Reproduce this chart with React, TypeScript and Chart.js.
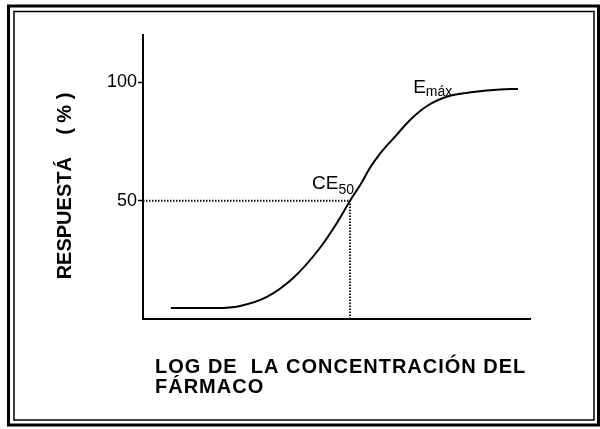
import React, { useEffect, useRef } from "react";
import { Chart, registerables } from "chart.js";

Chart.register(...registerables);

// Dose–response curve (x: log concentration, arbitrary units; y: response %)
const curveX = [0.72, 1.91, 2.51, 3.2, 3.88, 4.57, 5.01, 5.35, 5.66, 5.85, 6.12, 6.56, 6.9, 7.36, 7.93, 8.53, 9.22, 9.69];
const curveY = [4.6, 4.6, 5.5, 9.3, 17.3, 30.0, 40.6, 50.0, 57.9, 63.5, 69.8, 77.9, 84.1, 90.2, 94.3, 95.9, 97.0, 97.2];

// CE50 reference point
const ce50X = 5.35;
const ce50Y = 50;

// axis ticks / ranges
const yTickValues = [50, 100];
const yMin = 0;
const yMax = 120;
const xMin = 0;
const xMax = 10;

// texts
const yTitle = "RESPUESTÁ    ( % )";
const xTitleLines = ["LOG DE  LA CONCENTRACIÓN DEL", "FÁRMACO"];
const labelMain = ["CE", "E"];
const labelSub = ["50", "máx"];
const labelAnchorX = [4.37, 6.98];
const labelAnchorY = [54.9, 95.5];

const FONT = "'Liberation Sans', Arial, Helvetica, sans-serif";

const framePlugin = {
  id: "frame",
  beforeDraw(chart: any) {
    const ctx = chart.ctx;
    ctx.save();
    ctx.fillStyle = "#fff";
    ctx.fillRect(0, 0, chart.width, chart.height);
    ctx.strokeStyle = "#000";
    ctx.lineWidth = 3;
    ctx.strokeRect(8.5, 6, 590, 419);
    ctx.lineWidth = 1.5;
    ctx.strokeRect(14, 11.5, 580, 408.5);
    ctx.restore();
  },
};

const textPlugin = {
  id: "texts",
  afterDraw(chart: any) {
    const ctx = chart.ctx;
    const xs = chart.scales.x;
    const ys = chart.scales.y;
    const area = chart.chartArea;
    ctx.save();
    ctx.fillStyle = "#000";
    ctx.textBaseline = "alphabetic";

    // y-axis title (rotated)
    ctx.save();
    ctx.translate(ys.left + 25, (area.top + area.bottom) / 2 + 9);
    ctx.rotate(-Math.PI / 2);
    ctx.font = `bold 20px ${FONT}`;
    ctx.textAlign = "center";
    ctx.textBaseline = "middle";
    ctx.fillText(yTitle, 0, 0);
    ctx.restore();

    // x-axis title
    ctx.textAlign = "left";
    ctx.font = `bold 20px ${FONT}`;
    try { (ctx as any).letterSpacing = "1px"; } catch (e) {}
    xTitleLines.forEach((line, i) => {
      ctx.fillText(line, area.left + 12, area.bottom + 54 + i * 19.5);
    });
    try { (ctx as any).letterSpacing = "0px"; } catch (e) {}

    // annotations with subscripts
    labelMain.forEach((main, i) => {
      const px = xs.getPixelForValue(labelAnchorX[i]);
      const py = ys.getPixelForValue(labelAnchorY[i]);
      ctx.font = `19px ${FONT}`;
      ctx.fillText(main, px, py);
      const w = ctx.measureText(main).width;
      ctx.font = `14px ${FONT}`;
      ctx.fillText(labelSub[i], px + w, py + (i === 0 ? 5 : 3));
    });
    ctx.restore();
  },
};

export default function App() {
  const ref = useRef<HTMLCanvasElement | null>(null);

  useEffect(() => {
    if (!ref.current) return;
    const curve = curveX.map((x, i) => ({ x, y: curveY[i] }));
    const guide = [
      { x: xMin, y: ce50Y },
      { x: ce50X, y: ce50Y },
      { x: ce50X, y: yMin },
    ];
    const chart = new Chart(ref.current, {
      type: "line",
      data: {
        datasets: [
          {
            data: guide,
            borderColor: "#111",
            borderWidth: 2,
            borderDash: [1.5, 1.5],
            pointRadius: 0,
            tension: 0,
            fill: false,
          },
          {
            data: curve,
            borderColor: "#000",
            borderWidth: 2,
            pointRadius: 0,
            cubicInterpolationMode: "monotone",
            fill: false,
          },
        ],
      },
      options: {
        animation: false,
        responsive: false,
        devicePixelRatio: 1,
        layout: { padding: { left: 40, right: 70, top: 35, bottom: 110 } },
        plugins: {
          legend: { display: false },
          tooltip: { enabled: false },
        },
        scales: {
          x: {
            type: "linear",
            min: xMin,
            max: xMax,
            ticks: { display: false },
            grid: { display: true, drawOnChartArea: false, drawTicks: false },
            border: { display: true, color: "#000", width: 2 },
            afterFit: (s: any) => {
              s.height = 0;
            },
          },
          y: {
            type: "linear",
            min: yMin,
            max: yMax,
            afterBuildTicks: (s: any) => {
              s.ticks = yTickValues.map((v) => ({ value: v }));
            },
            ticks: {
              color: "#000",
              padding: 1,
              font: { family: FONT, size: 18 },
            },
            grid: {
              drawOnChartArea: false,
              drawTicks: true,
              tickLength: 5,
              tickColor: "#000",
              tickWidth: 1.5,
            },
            border: { display: true, color: "#000", width: 2 },
            title: { display: false },
            afterFit: (s: any) => {
              s.width = 103;
            },
          },
        },
      },
      plugins: [framePlugin, textPlugin],
    } as any);
    return () => chart.destroy();
  }, []);

  return (
    <div style={{ position: "absolute", left: 0, top: 0, width: 600, height: 429 }}>
      <canvas ref={ref} width={600} height={429} style={{ width: 600, height: 429, display: "block" }} />
    </div>
  );
}
